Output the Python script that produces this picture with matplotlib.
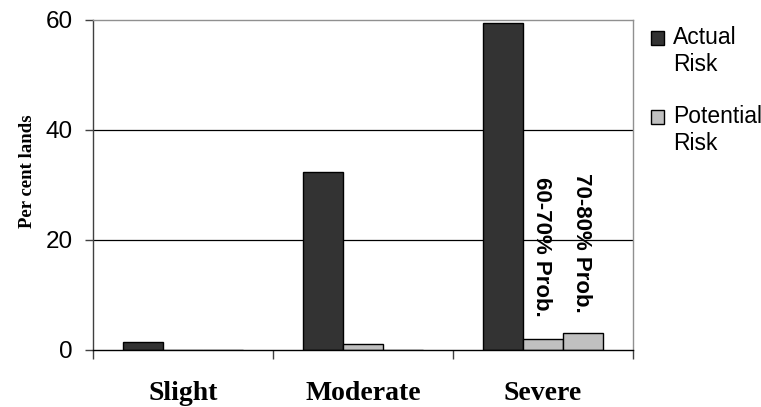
import numpy as np
import matplotlib
matplotlib.use("Agg")
from matplotlib import pyplot as plt
from matplotlib.patches import Rectangle
from matplotlib.legend_handler import HandlerPatch

categories = ["Slight", "Moderate", "Severe"]
actual_risk = [1.3, 32.3, 59.4]
potential_60_70 = [0.0, 1.0, 2.0]
potential_70_80 = [0.0, 0.0, 3.0]
series_labels = ["Actual\nRisk", "Potential\nRisk"]
prob_labels = ["60-70% Prob.", "70-80% Prob."]
y_ticks = [0, 20, 40, 60]

dark = "#333333"
light = "#c0c0c0"
sans = "Liberation Sans"
serif = "Liberation Serif"


def top_square(legend, orig_handle, xdescent, ydescent, width, height, fontsize):
    # swatch next to the first line of a two line label
    return Rectangle((-xdescent, -ydescent + 0.6 * fontsize), width, height)


fig = plt.figure(figsize=(7.61, 4.07), dpi=100)
ax = fig.add_axes([93 / 761, 1 - 349.5 / 407, 540 / 761, 329.5 / 407])

x = np.arange(len(categories))
w = 0.222
kw = dict(width=w, edgecolor="black", linewidth=1.0, zorder=3)
bars_a = ax.bar(x - w, actual_risk, color=dark, label=series_labels[0], **kw)
bars_p = ax.bar(x, potential_60_70, color=light, label=series_labels[1], **kw)
ax.bar(x + w, potential_70_80, color=light, **kw)

# probability notes over the severe potential bars
ax.text(x[2] - 0.01, 31.4, prob_labels[0], rotation=-90, ha="center", va="top",
        fontsize=16, fontweight="bold", family=sans, zorder=4)
ax.text(x[2] + w - 0.01, 32.1, prob_labels[1], rotation=-90, ha="center", va="top",
        fontsize=16, fontweight="bold", family=sans, zorder=4)

ax.set_xlim(-0.5, 2.5)
ax.set_ylim(0, 60)
ax.set_yticks(y_ticks)
ax.set_yticklabels([str(t) for t in y_ticks], fontsize=17.5, family=sans)
ax.set_xticks(x)
ax.set_xticklabels(categories, fontsize=20, fontweight="bold", family=serif)
ax.set_xticks(np.arange(len(categories) + 1) - 0.5, minor=True)
ax.tick_params(axis="x", which="major", length=0, pad=23)
ax.tick_params(axis="x", which="minor", length=6.5, width=1.0, direction="out", color="#404040")
ax.tick_params(axis="y", length=5.8, width=1.0, direction="out", pad=9, color="#404040")

for yv in y_ticks[1:-1]:
    ax.axhline(yv, color="black", linewidth=0.9, zorder=1)

ax.spines["top"].set_color("#909090")
ax.spines["right"].set_color("#909090")
ax.spines["left"].set_color("#404040")
ax.spines["bottom"].set_color("black")
for s in ax.spines.values():
    s.set_linewidth(1.0)
ax.spines["bottom"].set_zorder(5)

ax.set_ylabel("Per cent lands", fontsize=13.5, fontweight="bold", family=serif)
ax.yaxis.set_label_coords(-0.106, 0.542)

handles = [bars_a.patches[0], bars_p.patches[0]]
fig.legend(handles=handles, labels=series_labels,
           handler_map={h: HandlerPatch(patch_func=top_square) for h in handles},
           loc="upper left", bbox_to_anchor=(651 / 761, 1 - 26 / 407),
           frameon=False, prop={"family": sans, "size": 16.5},
           handlelength=0.55, handleheight=0.55, handletextpad=0.4,
           labelspacing=1.3, borderpad=0, borderaxespad=0)

fig.savefig("out.png", dpi=100)
